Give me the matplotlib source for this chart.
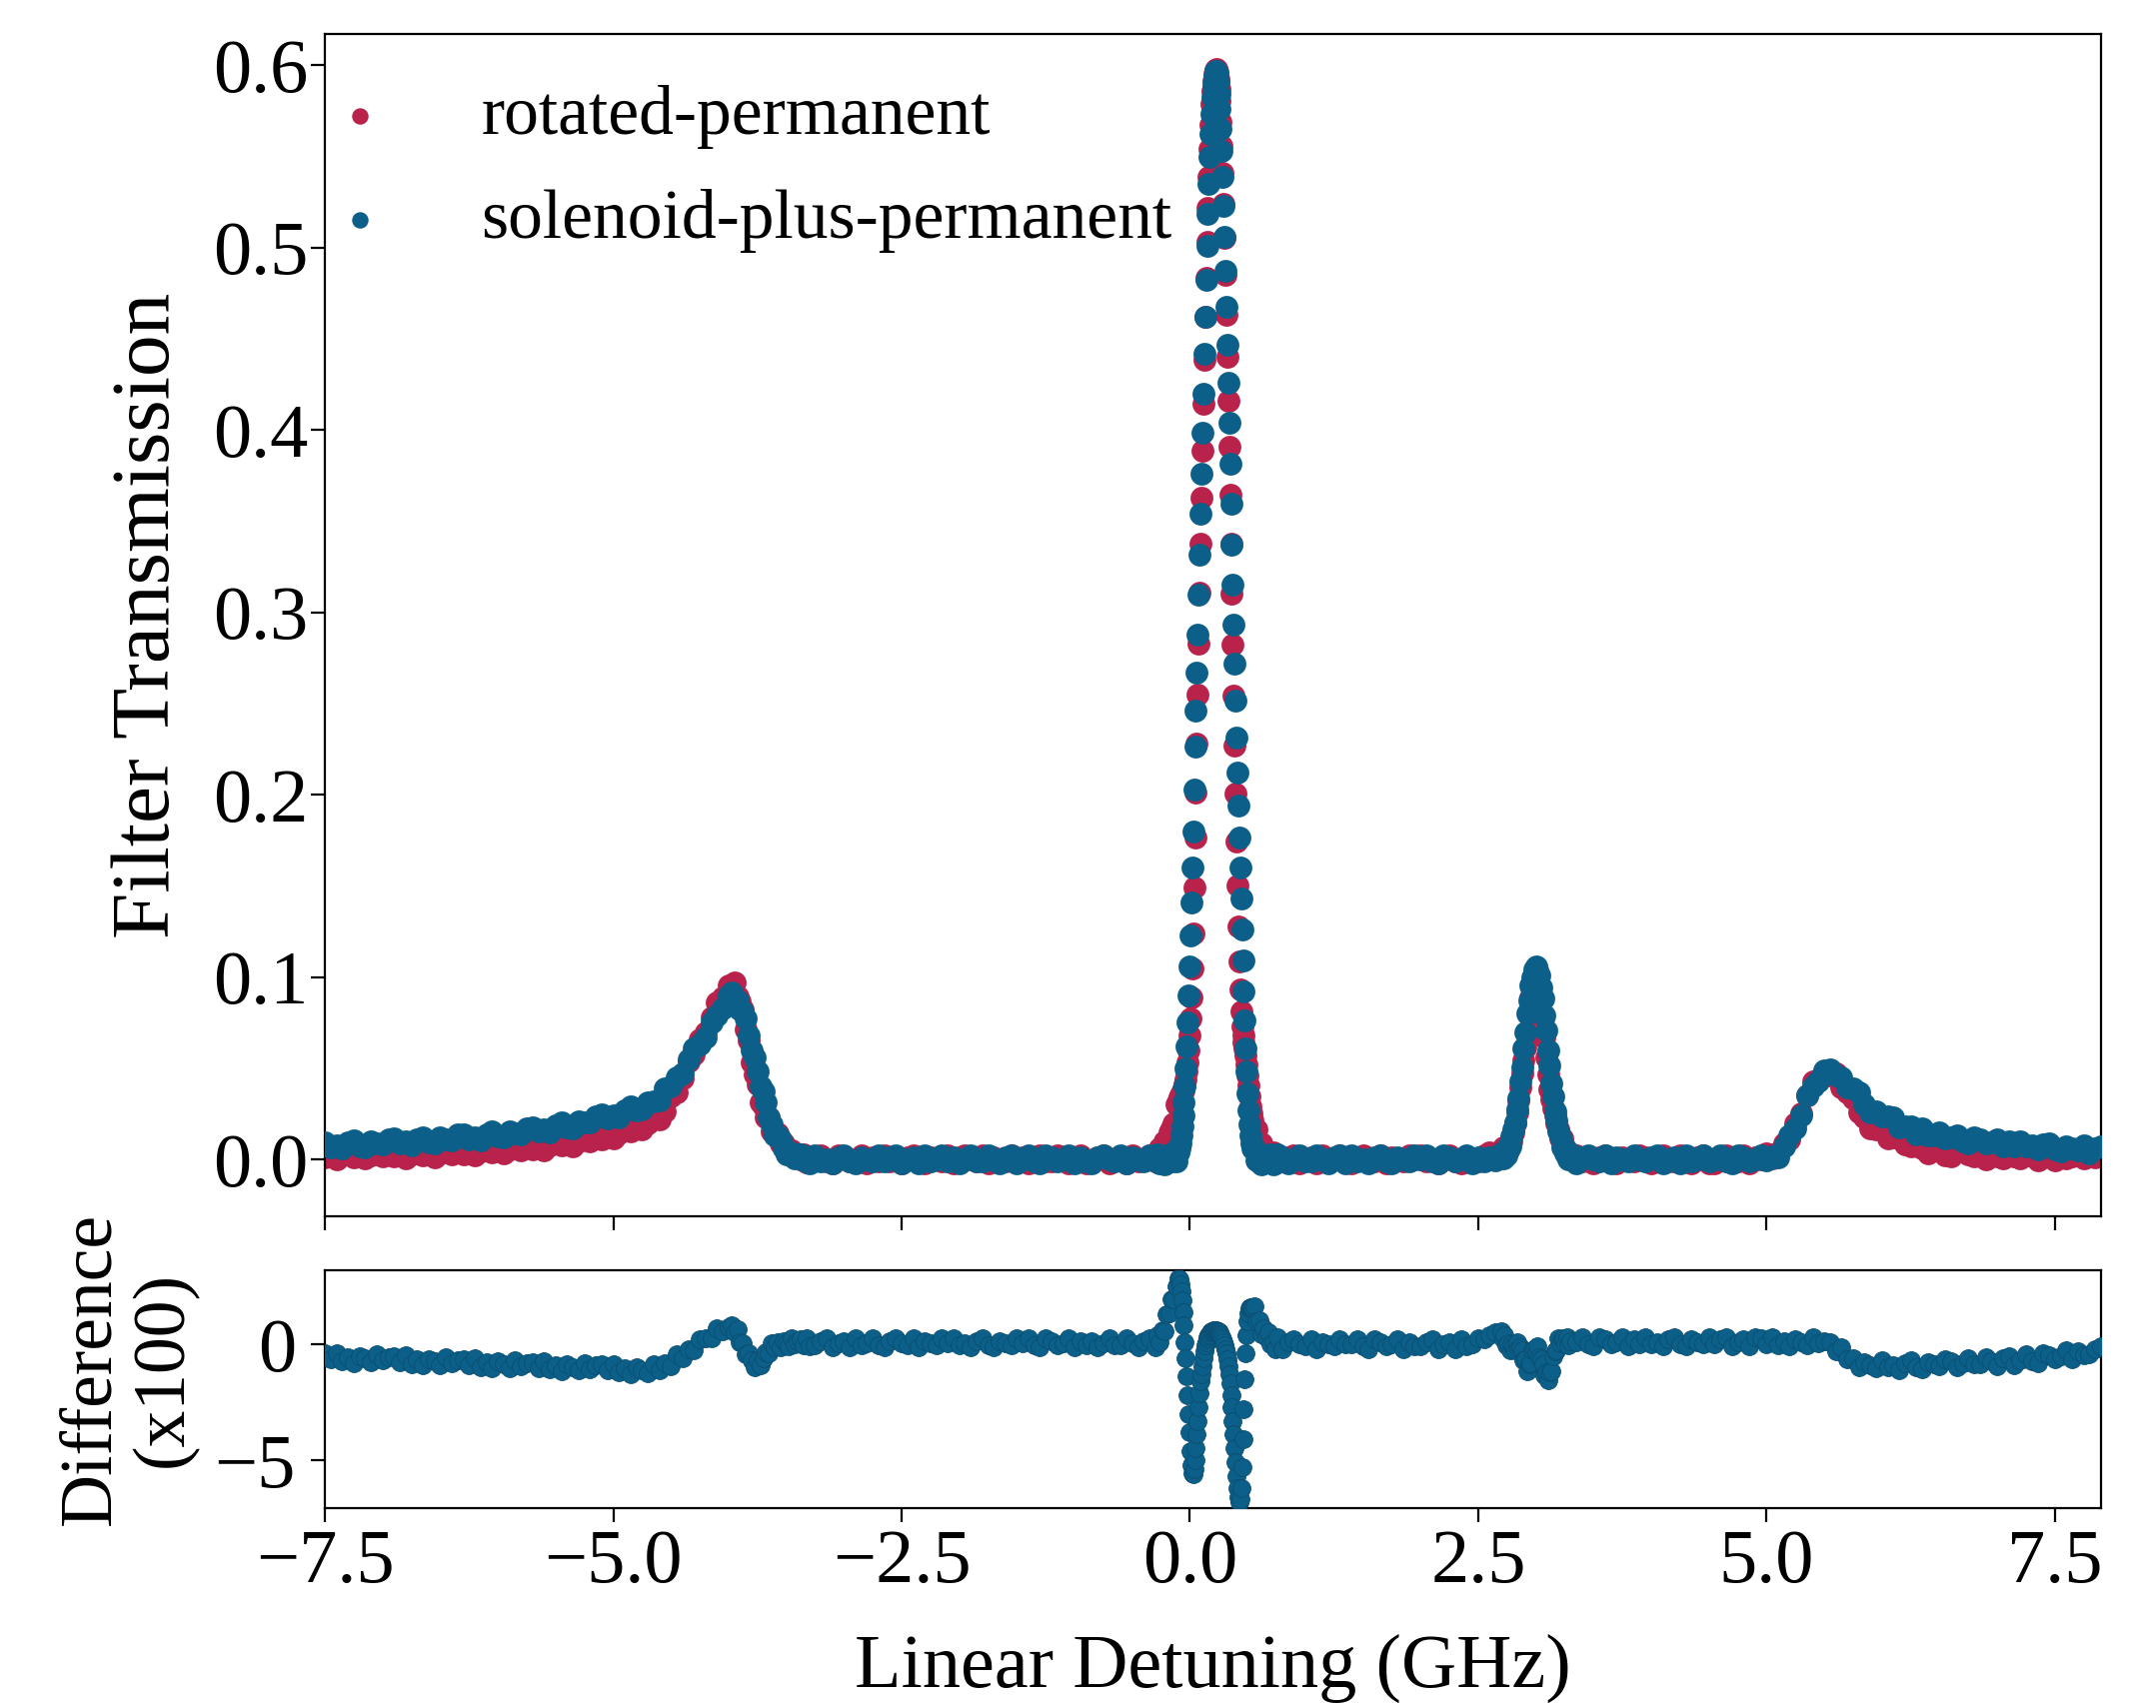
import matplotlib.pyplot as plt

# ---- data (GHz, transmission, difference x100) ----
detuning = [
    # far left wing
    -7.5, -7.45, -7.4, -7.35, -7.3, -7.25, -7.2, -7.15, -7.1, -7.05,
    -7.0, -6.95, -6.9, -6.85, -6.8, -6.75, -6.7, -6.65, -6.6, -6.55,
    -6.5, -6.45, -6.4, -6.35, -6.3, -6.25, -6.2, -6.15, -6.1, -6.05,
    -6.0, -5.95, -5.9, -5.85, -5.8, -5.75, -5.7, -5.65, -5.6, -5.55,
    -5.5, -5.45, -5.4, -5.35, -5.3, -5.25, -5.2, -5.15, -5.1, -5.05,
    -5.0, -4.95, -4.9, -4.85, -4.8, -4.75, -4.7, -4.65, -4.6,
    # peak near -4 GHz
    -4.55, -4.5, -4.45, -4.4, -4.35, -4.3, -4.25, -4.2, -4.15, -4.1, -4.05, -4.0,
    -3.975, -3.95, -3.925, -3.9, -3.875, -3.85, -3.825, -3.8, -3.775, -3.75,
    -3.725, -3.7, -3.675, -3.65, -3.625, -3.6, -3.575, -3.55, -3.525, -3.5,
    -3.475, -3.45, -3.425, -3.4, -3.375, -3.35, -3.325, -3.3,
    # flat
    -3.25, -3.2, -3.15, -3.1, -3.05, -3.0, -2.95, -2.9, -2.85, -2.8,
    -2.75, -2.7, -2.65, -2.6, -2.55, -2.5, -2.45, -2.4, -2.35, -2.3,
    -2.25, -2.2, -2.15, -2.1, -2.05, -2.0, -1.95, -1.9, -1.85, -1.8,
    -1.75, -1.7, -1.65, -1.6, -1.55, -1.5, -1.45, -1.4, -1.35, -1.3,
    -1.25, -1.2, -1.15, -1.1, -1.05, -1.0, -0.95, -0.9, -0.85, -0.8,
    -0.75, -0.7, -0.65, -0.6, -0.55, -0.5, -0.45, -0.4, -0.35, -0.3,
    # central peak
    -0.28, -0.26, -0.24, -0.22, -0.2, -0.18, -0.16, -0.14, -0.12,
    -0.1, -0.092, -0.084, -0.076, -0.068, -0.06, -0.052, -0.044, -0.036, -0.028,
    -0.02, -0.012, -0.004, 0.004, 0.012, 0.02, 0.028, 0.036, 0.044, 0.052,
    0.06, 0.068, 0.076, 0.084, 0.092, 0.1, 0.108, 0.116, 0.124, 0.132,
    0.14, 0.148, 0.156, 0.164, 0.172, 0.18, 0.188, 0.196, 0.204, 0.212,
    0.22, 0.228, 0.236, 0.244, 0.252, 0.26, 0.268, 0.276, 0.284, 0.292,
    0.3, 0.308, 0.316, 0.324, 0.332, 0.34, 0.348, 0.356, 0.364, 0.372,
    0.38, 0.388, 0.396, 0.404, 0.412, 0.42, 0.428, 0.436, 0.444, 0.452,
    0.46, 0.468, 0.476, 0.484, 0.492, 0.5, 0.508, 0.516, 0.524, 0.532, 0.54,
    0.56, 0.58, 0.6, 0.62, 0.64, 0.66, 0.68, 0.7, 0.72, 0.74, 0.76,
    # flat
    0.8, 0.85, 0.9, 0.95, 1.0, 1.05, 1.1, 1.15, 1.2, 1.25,
    1.3, 1.35, 1.4, 1.45, 1.5, 1.55, 1.6, 1.65, 1.7, 1.75,
    1.8, 1.85, 1.9, 1.95, 2.0, 2.05, 2.1, 2.15, 2.2, 2.25,
    2.3, 2.35, 2.4, 2.45, 2.5, 2.55, 2.6, 2.65,
    # peak at 3 GHz
    2.7, 2.715, 2.73, 2.745, 2.76, 2.775, 2.79, 2.805, 2.82, 2.835,
    2.85, 2.865, 2.88, 2.895, 2.91, 2.925, 2.94, 2.955, 2.97, 2.985,
    3.0, 3.015, 3.03, 3.045, 3.06, 3.075, 3.09, 3.105, 3.12, 3.135,
    3.15, 3.165, 3.18, 3.195, 3.21, 3.225, 3.24, 3.255, 3.27, 3.285, 3.3,
    # flat
    3.35, 3.4, 3.45, 3.5, 3.55, 3.6, 3.65, 3.7, 3.75, 3.8,
    3.85, 3.9, 3.95, 4.0, 4.05, 4.1, 4.15, 4.2, 4.25, 4.3,
    4.35, 4.4, 4.45, 4.5, 4.55, 4.6, 4.65, 4.7, 4.75, 4.8, 4.85, 4.9,
    # peak near 5.5 GHz
    4.95, 5.0, 5.05, 5.1, 5.15, 5.2, 5.25, 5.3, 5.35, 5.4, 5.45,
    5.5, 5.55, 5.6, 5.65, 5.7, 5.75, 5.8, 5.85, 5.9, 5.95,
    # right wing
    6.0, 6.05, 6.1, 6.15, 6.2, 6.25, 6.3, 6.35, 6.4, 6.45,
    6.5, 6.55, 6.6, 6.65, 6.7, 6.75, 6.8, 6.85, 6.9, 6.95,
    7.0, 7.05, 7.1, 7.15, 7.2, 7.25, 7.3, 7.35, 7.4, 7.45,
    7.5, 7.55, 7.6, 7.65, 7.7, 7.75, 7.8, 7.85, 7.9,
]

rotated = [
    .0010, .0041, .0001, .0022, .0042, .0013, .0033, .0004, .0024, .0045,
    .0015, .0036, .0016, .0047, .0007, .0028, .0049, .0020, .0041, .0012,
    .0033, .0054, .0025, .0047, .0028, .0060, .0021, .0043, .0065, .0037,
    .0059, .0032, .0054, .0077, .0049, .0072, .0055, .0089, .0052, .0076,
    .0100, .0075, .0099, .0074, .0099, .0125, .0100, .0126, .0112, .0149,
    .0116, .0144, .0172, .0152, .0181, .0163, .0195, .0232, .0219,
    .0265, .0345, .0365, .0445, .0535, .0575, .066, .0695, .078, .086, .089, .0955,
    .095, .097, .0895, .0865, .082, .0715, .065, .053, .0465, .041,
    .0315, .029, .023, .023, .0155, .015, .0145, .0085, .0085, .0035,
    .004, .005, .001, .0025, .000, .0027, -.0015, .0005,
    0, .002, -.001, -.002, .002, .001, -.001, 0, .002, -.002, .001, -.001,
    .002, -.001, 0, -.002, .001, .002, -.001, -.002, .001, 0, -.001, .002,
    -.002, .001, .002, 0, -.001, .002, -.002, .001, 0, -.001, .002, 0,
    .001, -.002, 0, .002, -.001, -.001, .002, 0, -.002, .001, .002, -.002,
    -.001, .001, .002, -.002, 0, .001, -.002, .002, -.001, 0, .002, -.001,
    -.0005, .006, .004, .010, .008, .015, .017, .020, .030,
    .0325, .034, .035, .036, .037, .038, .039, .041, .044, .048,
    .053, .060, .068, .077, .089, .1045, .124, .149, .1765, .2013,
    .2278, .2549, .2825, .3105, .3378, .3630, .3887, .4140, .4385, .4617,
    .4831, .5029, .5216, .5385, .5539, .5673, .5788, .5860, .5910, .5950,
    .5975, .5978, .5960, .5925, .5870, .5803, .5690, .5558, .5406, .5237,
    .5050, .4849, .4633, .4402, .4160, .3907, .3646, .3373, .3101, .2820,
    .2543, .2270, .2003, .1743, .1502, .1278, .1084, .0929, .081, .073,
    .068, .064, .061, .057, .052, .046, .0405, .0345, .029, .025, .0215,
    .015, .0165, .0095, .009, .002, .0045, .0025, -.0005, .004, -.0005, -.0015,
    -.001, .001, .002, -.002, 0, .001, -.002, .002, -.001, 0, .002, -.001,
    -.002, .001, .002, 0, -.001, .002, -.002, .001, 0, -.001, .002, 0,
    .002, -.001, 0, -.002, .001, .002, -.001, -.002, .001, 0, -.001, .002,
    .004, .0035,
    .0042, .0068, .0027, .0061, .0049, .0099, .0096, .0147, .0198, .0259,
    .0326, .0397, .0471, .0545, .0615, .0693, .0787, .0889, .0969, .1018,
    .103, .1008, .0954, .0874, .0777, .0668, .0560, .0465, .0386, .0327,
    .0281, .0239, .0198, .0162, .0116, .0114, .0059, .0061, .0017, .0038, .0012,
    .002, -.001, 0, -.002, .001, .002, -.001, -.002, .001, 0, -.001, .002,
    .001, -.002, 0, .002, -.001, -.001, .002, 0, -.002, .001, .002, -.002,
    -.002, .001, .002, 0, -.001, .002, -.002, .001,
    .000, .0035, .0005, .004, .009, .011, .020, .025, .035, .043, .044,
    .048, .046, .047, .0395, .0365, .0335, .0255, .0232, .017, .0165,
    .0165, .0117, .012, .0125, .008, .007, .009, .0062, .0034, .0059,
    .0064, .002, .0016, .0043, .005, .0028, .0015, .0043, .0001, .003,
    .0018, .0008, .0037, .0016, .0004, .0024, .0033, -.0007, .0013, .0023,
    -.0007, .0034, .0005, .0016, .0037, .0008, .0039, .001, .002,
]

solenoid = [
    .0095, .0067, .0078, .0060, .0091, .0103, .0074, .0066, .0097, .0089,
    .0080, .0112, .0113, .0085, .0096, .0078, .0110, .0122, .0094, .0086,
    .0118, .0110, .0102, .0135, .0137, .0110, .0122, .0105, .0138, .0151,
    .0124, .0118, .0151, .0145, .0138, .0172, .0176, .0151, .0165, .0150,
    .0185, .0201, .0176, .0172, .0208, .0205, .0201, .0238, .0245, .0223,
    .0241, .0230, .0269, .0290, .0270, .0273, .0315, .0320, .0324,
    .039, .040, .045, .047, .055, .061, .063, .067, .075, .079, .083, .090,
    .0915, .088, .087, .082, .081, .077, .068, .060, .056, .048,
    .040, .037, .031, .023, .019, .013, .013, .011, .006, .003,
    .0045, .0025, .0005, .003, .0025, -.0008, .000, -.002,
    .002, -.001, 0, -.002, .001, .002, -.001, -.002, .001, 0, -.001, .002,
    -.001, .001, .002, -.002, 0, .001, -.002, .002, -.001, 0, .002, -.001,
    .001, -.002, 0, .002, -.001, -.001, .002, 0, -.002, .001, .002, -.002,
    0, .002, -.001, -.002, .002, .001, -.001, 0, .002, -.002, .001, -.001,
    -.002, .001, .002, 0, -.001, .002, -.002, .001, 0, -.001, .002, 0,
    .003, -.002, .001, -.003, .002, 0, -.001, .004, -.001,
    .004, .006, .009, .013, .018, .024, .031, .040, .050, .062,
    .075, .090, .106, .123, .141, .160, .180, .203, .2265, .2463,
    .2668, .2879, .3095, .3315, .3538, .3760, .3982, .4200, .4415, .4622,
    .4821, .5009, .5186, .5347, .5494, .5623, .5733, .5823, .5892, .5940,
    .5966, .5968, .5949, .5907, .5843, .5758, .5652, .5528, .5386, .5227,
    .5055, .4869, .4673, .4467, .4255, .4037, .3816, .3593, .3371, .3150,
    .2933, .2720, .2513, .2313, .2122, .1938, .1764, .1599, .143, .126,
    .109, .092, .076, .061, .048, .036, .027, .019, .013, .009, .006,
    .006, -.0005, .002, -.003, .002, 0, -.001, .003, -.003, .001, .003,
    .001, -.002, 0, .002, -.001, -.001, .002, 0, -.002, .001, .002, -.002,
    .002, -.001, 0, -.002, .001, .002, -.001, -.002, .001, 0, -.001, .002,
    0, .002, -.001, -.002, .002, .001, -.001, 0, .002, -.002, .001, -.001,
    .001, -.0005,
    .0032, .0008, .0037, .0021, .0069, .0074, .0126, .0162, .0203, .0274,
    .0336, .0427, .0506, .0610, .0695, .0798, .0872, .0954, .0999, .1043,
    .1055, .1033, .1009, .0944, .0882, .0788, .0705, .0600, .0516, .0417,
    .0346, .0264, .0213, .0152, .0126, .0064, .0079, .0031, .0037, -.0002, .0032,
    -.002, .001, .002, 0, -.001, .002, -.002, .001, 0, -.001, .002, 0,
    -.001, .001, .002, -.002, 0, .001, -.002, .002, -.001, 0, .002, -.001,
    0, .002, -.001, -.002, .002, .001, -.001, 0,
    .002, -.0005, .0015, .001, .007, .013, .017, .024, .035, .040, .043,
    .0485, .0495, .046, .045, .0395, .039, .0365, .030, .026, .0265,
    .0235, .0237, .023, .0175, .018, .0179, .0138, .0169, .013, .0134,
    .0148, .0113, .0118, .0134, .010, .0087, .0123, .011, .0087, .0094,
    .0111, .0069, .0097, .0074, .0101, .0069, .0076, .0054, .0081, .0089,
    .0056, .0044, .0072, .006, .0048, .0076, .0034, .0062, .007,
]

difference = [
    -0.40, -0.66, -0.37, -0.73, -0.54, -0.80, -0.51, -0.62, -0.78, -0.44,
    -0.70, -0.56, -0.52, -0.78, -0.49, -0.85, -0.66, -0.92, -0.63, -0.74,
    -0.90, -0.56, -0.82, -0.68, -0.64, -0.90, -0.61, -0.97, -0.78, -1.04,
    -0.75, -0.86, -1.02, -0.68, -0.94, -0.80, -0.76, -1.02, -0.73, -1.09,
    -0.90, -1.16, -0.87, -0.98, -1.14, -0.80, -1.06, -0.92, -0.88, -1.14,
    -0.85, -1.21, -1.02, -1.28, -0.99, -1.10, -1.25, -0.88, -1.10,
    -0.80, -0.95, -0.45, -0.60, -0.20, -0.25, 0.20, 0.25, 0.25, 0.70, 0.55, 0.75,
    0.80, 0.50, 0.65, 0.10, 0.05, -0.45, -0.40, -0.70, -1.00, -0.70,
    -0.90, -0.60, -0.35, -0.40, 0.05, -0.15, 0.10, -0.15, 0.15, 0.05,
    -0.10, 0.25, 0.00, 0.15, 0.20, -0.05, 0.25, -0.10,
    -0.05, 0.15, 0.25, -0.15, 0.05, 0.15, -0.15, 0.25, -0.05, 0.05, 0.25, -0.05,
    -0.15, 0.15, 0.25, 0.05, -0.05, 0.25, -0.15, 0.15, 0.05, -0.05, 0.25, 0.05,
    0.25, -0.05, 0.05, -0.15, 0.15, 0.25, -0.05, -0.15, 0.15, 0.05, -0.05, 0.25,
    0.05, 0.25, -0.05, -0.15, 0.25, 0.15, -0.05, 0.05, 0.25, -0.15, 0.15, -0.05,
    0.15, -0.15, 0.05, 0.25, -0.05, -0.05, 0.25, 0.05, -0.15, 0.15, 0.25, -0.15,
    0.40, 0.10, 0.60, 0.55, 1.30, 1.35, 1.95, 1.95, 2.50,
    2.85, 2.8, 2.6, 2.3, 1.9, 1.4, 0.8, 0.1, -0.6, -1.4,
    -2.2, -3.0, -3.8, -4.6, -5.2, -5.55, -5.6, -5.4, -5.0, -4.5,
    -3.9, -3.3, -2.7, -2.1, -1.6, -1.3, -0.95, -0.6, -0.3, -0.05,
    0.1, 0.2, 0.3, 0.38, 0.45, 0.5, 0.55, 0.58, 0.6, 0.6,
    0.6, 0.6, 0.58, 0.55, 0.5, 0.45, 0.38, 0.3, 0.2, 0.1,
    -0.05, -0.2, -0.4, -0.65, -0.95, -1.3, -1.7, -2.2, -2.7, -3.3,
    -3.9, -4.5, -5.1, -5.7, -6.2, -6.6, -6.8, -6.7, -6.2, -5.3,
    -4.1, -2.8, -1.5, -0.4, 0.4, 1.0, 1.35, 1.55, 1.6, 1.6, 1.55,
    1.65, 1.0, 1.05, 0.45, 0.7, 0.3, 0.5, 0.0, 0.1, -0.2, 0.3,
    -0.2, 0.1, 0.2, 0.0, -0.1, 0.2, -0.2, 0.1, 0.0, -0.1, 0.2, 0.0,
    0.0, 0.2, -0.1, -0.2, 0.2, 0.1, -0.1, 0.0, 0.2, -0.2, 0.1, -0.1,
    -0.1, 0.1, 0.2, -0.2, 0.0, 0.1, -0.2, 0.2, -0.1, 0.0, 0.25, 0.2,
    0.4, 0.5,
    0.55, 0.20, 0.40, -0.05, 0.05, -0.25, 0.00, -0.10, -0.25, 0.10,
    -0.20, -0.15, -0.25, -0.70, -0.65, -1.15, -0.85, -0.80, -0.25, -0.20,
    -0.35, -0.10, -0.55, -0.65, -0.85, -1.35, -1.20, -1.55, -1.20, -1.15,
    -0.50, -0.30, -0.25, 0.25, 0.05, 0.20, 0.25, 0.00, 0.30, -0.05, 0.15,
    0.1, 0.3, 0.0, -0.1, 0.3, 0.2, 0.0, 0.1, 0.3, -0.1, 0.2, 0.0,
    0.3, 0.0, 0.1, -0.1, 0.2, 0.3, 0.0, -0.1, 0.2, 0.1, 0.0, 0.3,
    0.0, 0.2, 0.3, -0.1, 0.1, 0.2, -0.1, 0.3,
    0.25, 0.00, 0.30, -0.05, 0.15, -0.10, 0.20, 0.10, -0.05, 0.30, 0.05,
    0.15, 0.10, -0.30, -0.15, -0.65, -0.60, -1.00, -0.78, -0.90, -1.05,
    -0.70, -1.00, -0.90, -1.10, -0.80, -0.69, -0.98, -1.07, -0.76, -0.85,
    -0.94, -0.63, -0.72, -1.01, -0.80, -0.59, -0.88, -0.87, -0.56, -0.75,
    -0.93, -0.62, -0.50, -0.89, -0.67, -0.45, -0.73, -0.81, -0.38, -0.46,
    -0.63, -0.50, -0.27, -0.64, -0.31, -0.48, -0.45, -0.23, -0.10,
]

assert len(detuning) == len(rotated) == len(solenoid) == len(difference)

series_names = ["rotated-permanent", "solenoid-plus-permanent"]
x_ticks = [-7.5, -5.0, -2.5, 0.0, 2.5, 5.0, 7.5]
y_ticks = [0.0, 0.1, 0.2, 0.3, 0.4, 0.5, 0.6]
diff_ticks = [-5, 0]

RED = "#B8224B"
BLUE = "#0C5F88"

plt.rcParams['font.family'] = ['Liberation Serif', 'DejaVu Serif']

fig = plt.figure(figsize=(21.57, 17.09), dpi=100)
ax = fig.add_axes([0.1507, 0.2876, 0.8238, 0.6925])
axd = fig.add_axes([0.1507, 0.1170, 0.8238, 0.1393], sharex=ax)

ax.scatter(detuning, rotated, s=270, color=RED, linewidths=0,
           label=series_names[0], zorder=2)
ax.scatter(detuning, solenoid, s=270, color=BLUE, linewidths=0,
           label=series_names[1], zorder=3)
axd.scatter(detuning, difference, s=165, color=BLUE, edgecolors="#0A4E71",
            linewidths=0.6, zorder=3)

ax.set_xlim(-7.5, 7.9)
ax.set_ylim(-0.0315, 0.617)
axd.set_ylim(-7.07, 3.19)
ax.set_xticks(x_ticks)
ax.set_yticks(y_ticks)
axd.set_yticks(diff_ticks)
ax.tick_params(labelbottom=False)

for a in (ax, axd):
    a.tick_params(direction="out", length=10, width=1.6, labelsize=55, pad=2)
    for sp in a.spines.values():
        sp.set_linewidth(1.6)
axd.tick_params(axis="x", pad=5)
axd.tick_params(axis="y", pad=11)

ax.legend(loc="upper left", bbox_to_anchor=(0.0, 0.957), frameon=False,
          fontsize=50, handlelength=1.0, handletextpad=1.25, borderaxespad=0,
          borderpad=0, labelspacing=0.58, markerscale=0.72, scatterpoints=1)

fig.text(149 / 2157, 1 - 616 / 1709, "Filter Transmission", rotation=90,
         ha="center", va="center", fontsize=60)
fig.text(128 / 2157, 1 - 1370 / 1709, "Difference\n(x100)", rotation=90,
         ha="center", va="center", multialignment="center", fontsize=53,
         linespacing=1.1)
fig.text(1213 / 2157, 1 - 1669 / 1709, "Linear Detuning (GHz)",
         ha="center", va="center", fontsize=55)

fig.savefig("out.png", dpi=100)
